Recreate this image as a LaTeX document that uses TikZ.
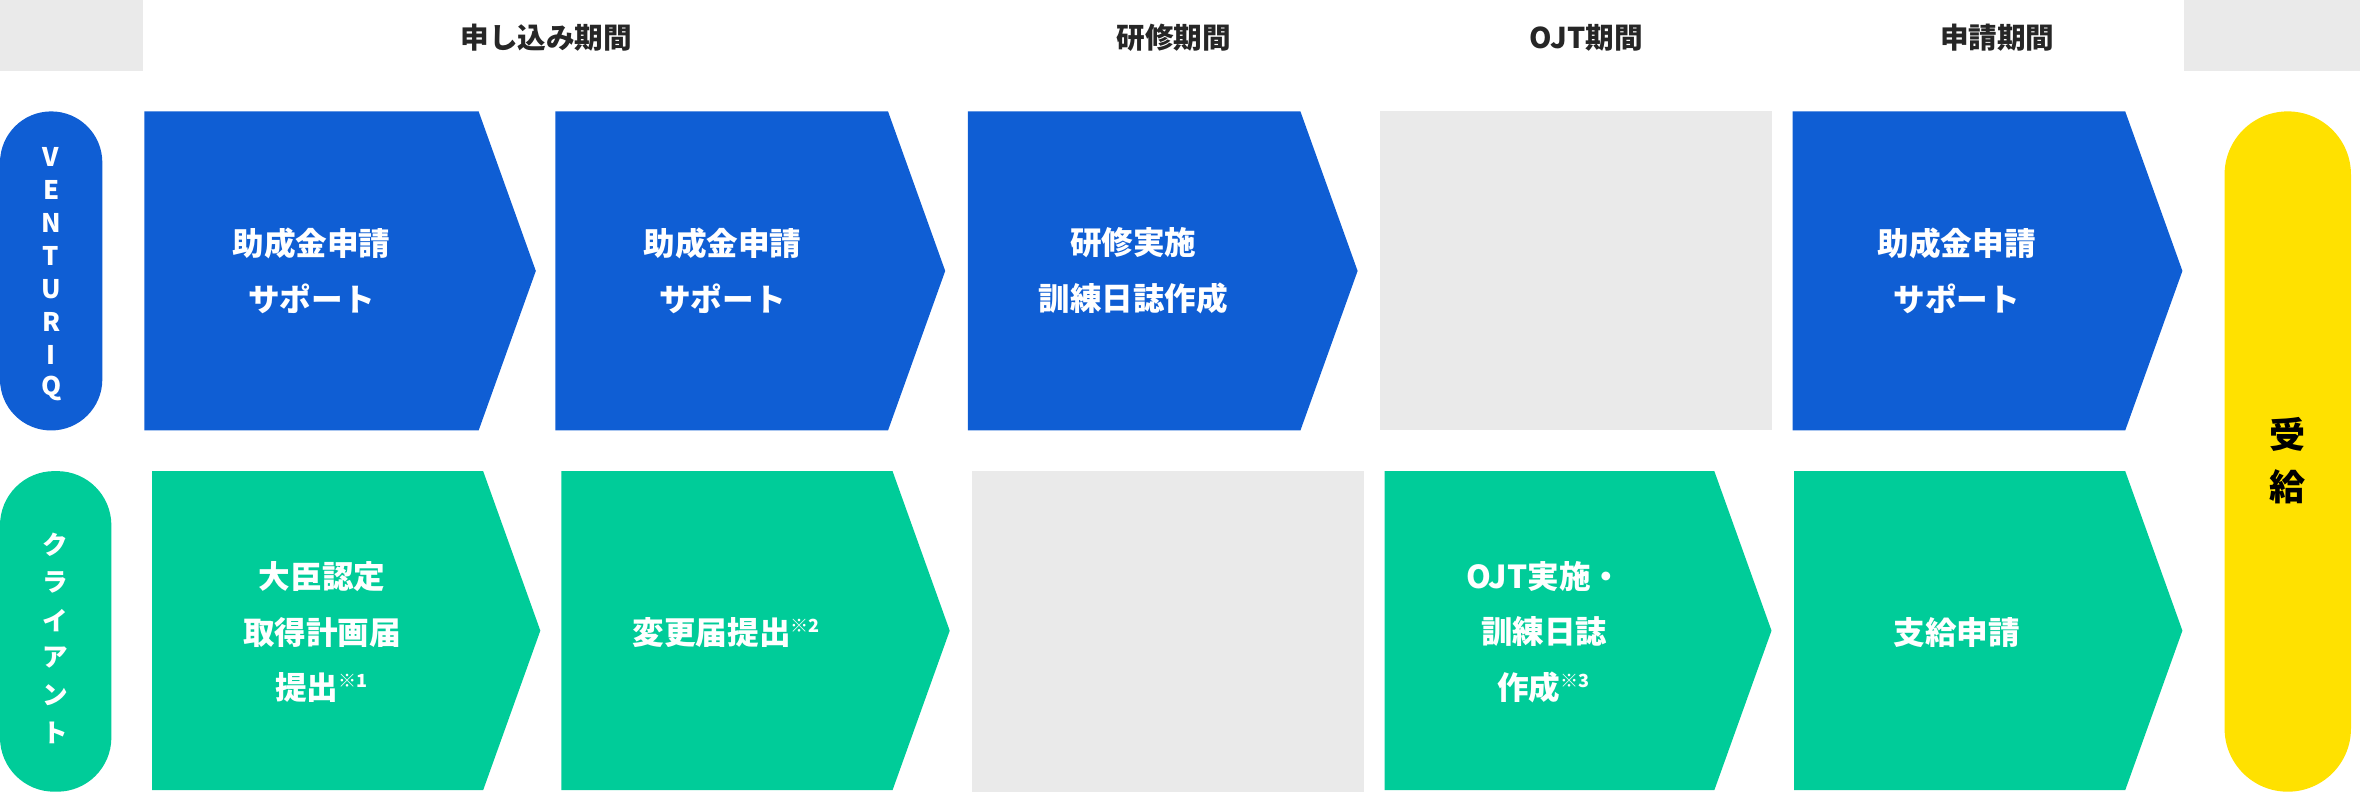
\documentclass[tikz,border=0pt]{standalone}
\usepackage{fontspec}
\setmainfont{Noto Sans CJK JP}
\definecolor{vblue}{HTML}{0F5ED4}
\definecolor{cgreen}{HTML}{00CC99}
\definecolor{pgrey}{HTML}{EAEAEA}
\definecolor{gyellow}{HTML}{FFE100}
\newcommand\chev[4]{\fill[#1] (#2,#4) -- (#3,#4) -- ({#3+38},{#4+106}) -- (#3,{#4+212}) -- (#2,{#4+212}) -- cycle;}
\newcommand\nt[1]{\textsuperscript{\fontsize{6}{6}\selectfont #1}}
\tikzset{
  head/.style={font=\fontsize{9.5}{11}\selectfont\bfseries, text=black!85},
  step text/.style={font=\fontsize{10.5}{18.5}\selectfont\bfseries, text=white, align=center},
  pill text/.style={font=\fontsize{8.5}{11}\selectfont\bfseries, text=white}
}
\begin{document}
\begin{tikzpicture}[x=0.5pt,y=-0.5pt]
  \useasboundingbox (0,0) rectangle (1568,526);
  % header band
  \fill[pgrey] (0,0) rectangle (95,47);
  \fill[pgrey] (1451,0) rectangle (1568,47);
  \node[head] (h1) at (363,25) {申し込み期間};
  \node[head] (h2) at (780,25) {研修期間};
  \node[head] (h3) at (1054,25) {OJT期間};
  \node[head] (h4) at (1327,25) {申請期間};

  % side labels
  \fill[vblue, rounded corners=17pt] (0,74) rectangle (68,286);
  \foreach \c [count=\i] in {V,E,N,T,U,R,I,Q}
    \node[pill text] (v\i) at (34,{82+22*\i}) {\c};
  \fill[cgreen, rounded corners=18pt] (0,313) rectangle (74,526);
  \foreach \c [count=\i] in {ク,ラ,イ,ア,ン,ト}
    \node[pill text] (c\i) at (37,{337+25*\i}) {\c};

  % VENTURIQ row
  \chev{vblue}{96}{318}{74}
  \chev{vblue}{369}{590}{74}
  \chev{vblue}{643}{864}{74}
  \fill[pgrey] (917,74) rectangle (1177,286);
  \chev{vblue}{1191}{1412}{74}
  \node[step text] (a1) at (207,180) {助成金申請\\サポート};
  \node[step text] (a2) at (480,180) {助成金申請\\サポート};
  \node[step text] (a3) at (753,180) {研修実施\\訓練日誌作成};
  \node[step text] (a5) at (1300,180) {助成金申請\\サポート};

  % client row
  \chev{cgreen}{101}{321}{313}
  \chev{cgreen}{373}{593}{313}
  \fill[pgrey] (646,313) rectangle (906,526);
  \chev{cgreen}{920}{1139}{313}
  \chev{cgreen}{1192}{1412}{313}
  \node[step text] (b1) at (214,420) {大臣認定\\取得計画届\\提出\nt{※1}};
  \node[step text] (b2) at (483,420) {変更届提出\nt{※2}};
  \node[step text] (b4) at (1026,420) {OJT実施・\\訓練日誌\\作成\nt{※3}};
  \node[step text] (b5) at (1300,420) {支給申請};

  % result
  \fill[gyellow, rounded corners=21pt] (1478,74) rectangle (1562,526);
  \node[font=\fontsize{12}{17}\selectfont\bfseries, align=center] (r) at (1520,306) {受\\給};
\end{tikzpicture}
\end{document}
